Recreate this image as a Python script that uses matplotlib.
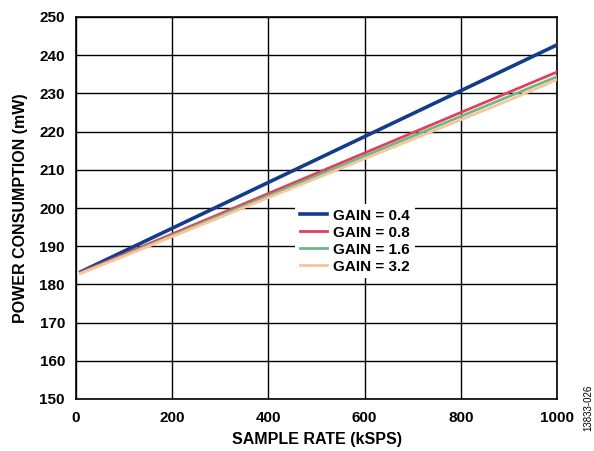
import matplotlib
matplotlib.use("Agg")
import matplotlib.pyplot as plt

plt.rcParams['font.family'] = ['Liberation Sans', 'DejaVu Sans']
plt.rcParams['font.weight'] = 'bold'

sample_rate = [10, 100, 200, 300, 400, 500, 600, 700, 800, 900, 1000]
gain_04 = [183.3, 188.7, 194.7, 200.7, 206.7, 212.7, 218.7, 224.7, 230.7, 236.7, 242.7]
gain_08 = [183.2, 187.9, 193.2, 198.5, 203.8, 209.1, 214.4, 219.7, 225.0, 230.3, 235.6]
gain_16 = [183.0, 187.6, 192.8, 198.0, 203.2, 208.4, 213.6, 218.8, 224.0, 229.2, 234.4]
gain_32 = [182.9, 187.4, 192.5, 197.6, 202.7, 207.8, 212.9, 218.0, 223.1, 228.2, 233.6]

series = [
    ("GAIN = 0.4", gain_04, "#143c8c"),
    ("GAIN = 0.8", gain_08, "#e0405a"),
    ("GAIN = 1.6", gain_16, "#6cb88a"),
    ("GAIN = 3.2", gain_32, "#f9c49a"),
]

fig = plt.figure(figsize=(5.94, 4.51), dpi=100)
ax = fig.add_axes([76 / 594, 52 / 451, 481 / 594, 382 / 451])

for label, vals, color in series:
    ax.plot(sample_rate, vals, color=color, lw=2.6 if label.endswith("0.4") else 2.0,
            label=label, zorder=3)

ax.set_xlim(0, 1000)
ax.set_ylim(150, 250)
ax.set_xticks(range(0, 1001, 200))
ax.set_yticks(range(150, 251, 10))
ax.grid(True, color="black", lw=1.0, zorder=0)
ax.tick_params(axis='y', length=0, labelsize=11, pad=8)
ax.tick_params(axis='x', length=0, labelsize=11, pad=9)
for lab in ax.get_xticklabels() + ax.get_yticklabels():
    lab.set_fontweight('bold')
for sp in ax.spines.values():
    sp.set_linewidth(1.2)

ax.set_xlabel("SAMPLE RATE (kSPS)", fontsize=11.5, fontweight='bold', labelpad=5)
ax.set_ylabel("POWER CONSUMPTION (mW)", fontsize=11.5, fontweight='bold', labelpad=8)

leg = ax.legend(loc='center', bbox_to_anchor=(0.58, 0.413), frameon=True,
                fancybox=False, edgecolor='none', framealpha=1.0,
                prop={'weight': 'bold', 'size': 11}, handlelength=1.8,
                handletextpad=0.4, labelspacing=0.2, borderpad=0.3)
leg.set_zorder(5)

fig.text(588 / 594, (451 - 408) / 451, "13833-026", rotation=90, fontsize=7,
         fontweight='normal', ha='center', va='center')

fig.savefig("out.png", dpi=100)
